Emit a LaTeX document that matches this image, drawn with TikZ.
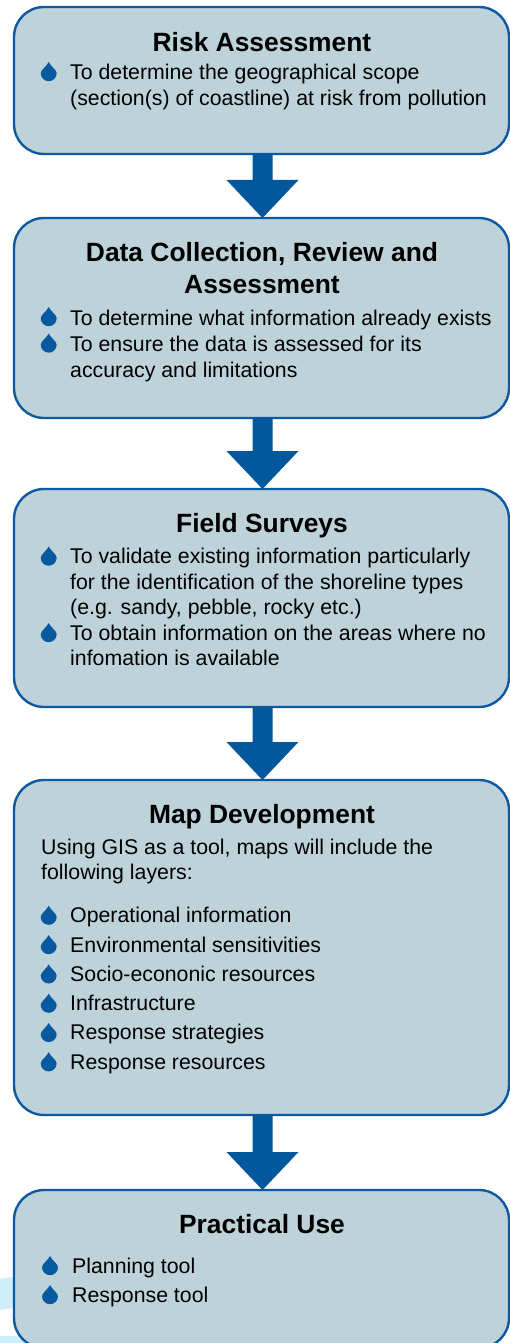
\documentclass[tikz,border=0pt]{standalone}
\usepackage{fontspec}
\setmainfont{Liberation Sans}
\usetikzlibrary{calc}
\definecolor{boxfill}{RGB}{190,210,218}
\definecolor{boxline}{RGB}{14,90,160}
\definecolor{arrowc}{RGB}{2,87,157}
\definecolor{dropc}{RGB}{8,90,160}
\definecolor{cyanbg}{RGB}{205,238,250}
\begin{document}
\begin{tikzpicture}[x=1pt,y=-1pt,
  stagebox/.style={draw=boxline, line width=2.4pt, fill=boxfill, rounded corners=30pt,
    minimum width=495pt, inner sep=0pt, outer sep=0pt},
  titletext/.style={anchor=base, inner sep=0pt, font=\fontsize{26.4}{32}\selectfont\bfseries},
  bodytext/.style={anchor=base west, inner sep=0pt, font=\fontsize{21.3}{25.5}\selectfont},
  flowarrow/.style={fill=arrowc},
  pics/droplet/.style={code={
    \fill[dropc] (0,-19) .. controls (1.7,-15) and (8,-11) .. (8,-7.8)
      arc[start angle=0,end angle=180,radius=8]
      .. controls (-8,-11) and (-1.7,-15) .. (0,-19) -- cycle;}}
]
\useasboundingbox (0,0) rectangle (510,1343);
\clip (0,0) rectangle (510,1343);
\fill[white] (0,0) rectangle (510,1343);

% light background decoration
\fill[cyanbg] (0,1279) .. controls (10,1277) .. (30,1278) -- (30,1309) .. controls (10,1308) .. (0,1310) -- cycle;
\fill[cyanbg] (0,1336) -- (70,1336) -- (70,1343) -- (0,1343) -- cycle;

% boxes
\node[stagebox, minimum height=147pt] (b1) at (261.5,80.5) {};
\node[stagebox, minimum height=200pt] (b2) at (261.5,318) {};
\node[stagebox, minimum height=218pt] (b3) at (261.5,598) {};
\node[stagebox, minimum height=335pt] (b4) at (261.5,947.5) {};
\node[stagebox, minimum height=158pt] (b5) at (261.5,1269) {};

% arrows
\foreach \a/\b in {b1/b2,b2/b3,b3/b4,b4/b5}{
  \fill[flowarrow] let \p1=(\a.south), \p2=(\b.north) in
    (\x1-9pt,\y1) -- (\x1+11pt,\y1) -- (\x1+11pt,\y2+38pt) -- (\x1+37pt,\y2+38pt)
    -- (\x1+1pt,\y2) -- (\x1-35pt,\y2+38pt) -- (\x1-9pt,\y2+38pt) -- cycle;
}

% Box 1
\node[titletext] (t1) at (262,52) {Risk Assessment};
\pic at (48.7,81) {droplet};
\node[bodytext] (l1a) at (70,80) {To determine the geographical scope};
\node[bodytext] (l1b) at (70,106) {(section(s) of coastline) at risk from pollution};

% Box 2
\node[titletext] (t2a) at (262,261) {Data Collection, Review and};
\node[titletext] (t2b) at (262,293) {Assessment};
\pic at (48.7,326) {droplet};
\node[bodytext] (l2a) at (70,325) {To determine what information already exists};
\pic at (48.7,352.5) {droplet};
\node[bodytext] (l2b) at (70,351.5) {To ensure the data is assessed for its};
\node[bodytext] (l2c) at (70,377) {accuracy and limitations};

% Box 3
\node[titletext] (t3) at (262,532) {Field Surveys};
\pic at (48.7,565.5) {droplet};
\node[bodytext] (l3a) at (70,563.5) {To validate existing information particularly};
\node[bodytext] (l3b) at (70,589) {for the identification of the shoreline types};
\node[bodytext] (l3c) at (70,614.5) {(e.g. sandy, pebble, rocky etc.)};
\pic at (48.7,642) {droplet};
\node[bodytext] (l3d) at (70,640) {To obtain information on the areas where no};
\node[bodytext] (l3e) at (70,665.5) {infomation is available};

% Box 4
\node[titletext] (t4) at (262,823) {Map Development};
\node[bodytext] (l4a) at (41,854.5) {Using GIS as a tool, maps will include the};
\node[bodytext] (l4b) at (41,879.5) {following layers:};
\foreach \y/\txt/\nm in {922.7/Operational information/i1,
    952/Environmental sensitivities/i2,
    981.3/Socio-econonic resources/i3,
    1010.6/Infrastructure/i4,
    1039.9/Response strategies/i5,
    1069.2/Response resources/i6}{
  \pic at (48.7,\y+2) {droplet};
  \node[bodytext] (\nm) at (70,\y) {\txt};
}

% Box 5
\node[titletext] (t5) at (262,1233) {Practical Use};
\pic at (50,1275) {droplet};
\node[bodytext] (l5a) at (72,1273) {Planning tool};
\pic at (50,1304) {droplet};
\node[bodytext] (l5b) at (72,1302) {Response tool};
\end{tikzpicture}
\end{document}
